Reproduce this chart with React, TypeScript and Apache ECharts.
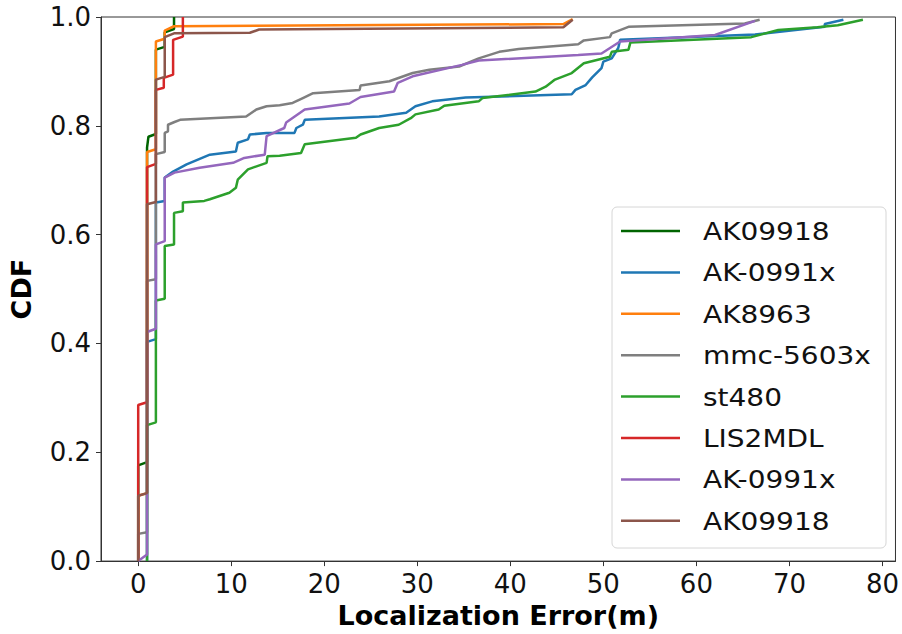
import React, { useEffect, useRef } from "react";
import * as echarts from "echarts";

const seriesNames = ["AK09918", "AK-0991x", "AK8963", "mmc-5603x", "st480", "LIS2MDL", "AK-0991x", "AK09918"];
const seriesColors = ["#006400", "#1f77b4", "#ff7f0e", "#7f7f7f", "#2ca02c", "#d62728", "#9467bd", "#8c564b"];
const xTicks = [0, 10, 20, 30, 40, 50, 60, 70, 80];
const yTicks = [0, 0.2, 0.4, 0.6, 0.8, 1.0];

const ak09918A = [[0,0],[0,0.176],[0.95,0.182],[0.95,0.76],[1.1,0.78],[1.9,0.785],[1.9,0.94],[2.85,0.945],[2.85,0.972],[3.85,0.978],[3.85,1.0]];
const ak0991xA = [[0.95,0],[0.95,0.403],[1.9,0.408],[1.9,0.659],[2.85,0.662],[2.85,0.705],[3.75,0.716],[5.2,0.729],[7.7,0.747],[10.5,0.753],[10.7,0.769],[11.8,0.775],[12,0.784],[13.8,0.787],[16.8,0.787],[17,0.796],[17.7,0.802],[17.9,0.811],[25.9,0.817],[28.8,0.824],[29.8,0.836],[31.6,0.845],[35.2,0.852],[46.6,0.858],[47,0.866],[48.1,0.875],[48.8,0.889],[49.8,0.906],[50,0.918],[50.9,0.924],[51.6,0.943],[51.8,0.958],[66.3,0.968],[73.8,0.982],[73.8,0.987],[75.8,0.995]];
const ak8963 = [[0,0],[0,0.12],[0.95,0.125],[0.95,0.752],[1.9,0.757],[1.9,0.955],[2.85,0.96],[2.85,0.975],[3.85,0.983],[45.7,0.987],[46.7,0.996]];
const mmc5603x = [[0,0],[0,0.05],[0.95,0.053],[0.95,0.515],[1.9,0.518],[1.9,0.748],[2.85,0.752],[2.85,0.787],[3.2,0.79],[3.2,0.802],[3.9,0.807],[4.5,0.811],[11.6,0.817],[12.7,0.83],[13.8,0.836],[15.2,0.838],[16.6,0.842],[17.7,0.851],[18.8,0.86],[23.8,0.866],[23.9,0.874],[27,0.882],[29.5,0.897],[31.3,0.903],[34.5,0.909],[36.6,0.924],[38.8,0.936],[40.9,0.941],[47.3,0.95],[47.9,0.957],[50.7,0.963],[50.9,0.97],[52.7,0.982],[65.2,0.988],[66.8,0.995]];
const st480 = [[0.95,0],[0.95,0.25],[1.9,0.255],[1.9,0.479],[2.85,0.482],[2.85,0.579],[3.85,0.582],[3.85,0.64],[4.8,0.643],[4.8,0.659],[7.1,0.662],[7.7,0.665],[9.8,0.677],[10.5,0.686],[10.7,0.701],[11.8,0.72],[13.8,0.732],[13.9,0.744],[15.2,0.745],[17.5,0.75],[17.9,0.766],[23.4,0.778],[23.9,0.784],[25.9,0.796],[28,0.802],[29.3,0.814],[29.8,0.821],[32.3,0.83],[32.9,0.837],[36.6,0.845],[37,0.851],[42.7,0.863],[43.8,0.872],[44.8,0.885],[46.6,0.897],[47.9,0.915],[50.7,0.927],[50.9,0.936],[52.7,0.94],[52.9,0.953],[65.9,0.963],[68.8,0.976],[73,0.981],[75.2,0.985],[77.9,0.995]];
const lis2mdl = [[0,0],[0,0.287],[0.95,0.292],[0.95,0.724],[1.9,0.73],[1.9,0.866],[2.75,0.87],[2.75,0.888],[3.75,0.894],[3.75,0.958],[4.8,0.964],[4.8,1.0]];
const ak0991xB = [[0,0],[0.95,0.012],[0.95,0.421],[1.9,0.427],[1.9,0.582],[2.85,0.588],[2.85,0.705],[3.9,0.714],[6.6,0.723],[10.2,0.732],[11.4,0.741],[13.6,0.747],[13.8,0.781],[15.7,0.796],[15.9,0.806],[17.9,0.83],[22.7,0.841],[23.9,0.853],[27.5,0.863],[27.9,0.879],[29.5,0.891],[34.8,0.912],[36.6,0.92],[47.3,0.93],[49.8,0.933],[51.8,0.955],[62,0.967],[66.3,0.993]];
const ak09918B = [[0,0],[0,0.12],[0.95,0.125],[0.95,0.656],[1.9,0.66],[1.9,0.885],[2.85,0.89],[2.85,0.963],[3.85,0.97],[12,0.971],[13,0.977],[45.7,0.981],[46.7,0.995]];

const seriesData = [ak09918A, ak0991xA, ak8963, mmc5603x, st480, lis2mdl, ak0991xB, ak09918B];

const FONT = "DejaVu Sans";

export default function App() {
  const ref = useRef<HTMLDivElement>(null);
  useEffect(() => {
    if (!ref.current) return;
    const chart = echarts.init(ref.current, null, { renderer: "svg" });

    const legendX = 612, legendY = 207, legendW = 274, legendH = 341;
    const rowY0 = 231, rowGap = 41.4;
    const legendEls: any[] = [
      {
        type: "rect",
        shape: { x: legendX, y: legendY, width: legendW, height: legendH, r: 5 },
        style: { fill: "rgba(255,255,255,0.8)", stroke: "#d6d6d6", lineWidth: 1 },
        z: 100,
      },
    ];
    seriesNames.forEach((name, i) => {
      const y = rowY0 + rowGap * i;
      legendEls.push({
        type: "line",
        shape: { x1: 621, y1: y, x2: 680, y2: y },
        style: { stroke: seriesColors[i], lineWidth: 2.5 },
        z: 101,
      });
      legendEls.push({
        type: "text",
        x: 703,
        y: y,
        scaleX: 1.12,
        style: {
          text: name,
          fontSize: 25,
          fontFamily: FONT,
          fill: "#111",
          verticalAlign: "middle",
          align: "left",
        },
        z: 101,
      });
    });

    chart.setOption({
      animation: false,
      backgroundColor: "#fff",
      grid: {
        left: 101,
        right: 4,
        top: 17,
        bottom: 71,
        containLabel: false,
        show: true,
        borderColor: "#333",
        borderWidth: 1,
        backgroundColor: "transparent",
      },
      xAxis: {
        type: "value",
        min: -4.0,
        max: 81.4,
        name: "Localization Error(m)",
        nameLocation: "middle",
        nameGap: 40,
        nameTextStyle: { fontSize: 27, fontWeight: "bold", fontFamily: FONT, color: "#000" },
        axisLine: { show: true, onZero: false, lineStyle: { color: "#333", width: 1 } },
        axisTick: { show: true, length: 5, lineStyle: { color: "#333" }, customValues: xTicks },
        axisLabel: { fontSize: 26, fontFamily: FONT, color: "#111", margin: 10, customValues: xTicks, formatter: (v: number) => String(v) },
        splitLine: { show: false },
      },
      yAxis: {
        type: "value",
        min: 0,
        max: 1,
        interval: 0.2,
        name: "CDF",
        nameLocation: "middle",
        nameGap: 66,
        nameRotate: 90,
        nameTextStyle: { fontSize: 27, fontWeight: "bold", fontFamily: FONT, color: "#000" },
        axisLine: { show: true, onZero: false, lineStyle: { color: "#333", width: 1 } },
        axisTick: { show: true, length: 5, lineStyle: { color: "#333" }, customValues: yTicks },
        axisLabel: { fontSize: 26, fontFamily: FONT, color: "#111", margin: 10, formatter: (v: number) => v.toFixed(1) },
        splitLine: { show: false },
      },
      series: seriesData.map((d, i) => ({
        type: "line",
        name: seriesNames[i],
        data: d,
        showSymbol: false,
        symbol: "none",
        lineStyle: { color: seriesColors[i], width: 2.5 },
        itemStyle: { color: seriesColors[i] },
        z: 2 + i * 0.01,
      })),
      graphic: { elements: legendEls },
    });

    return () => chart.dispose();
  }, []);
  return (
    <div
      ref={ref}
      style={{ position: "fixed", left: 0, top: 0, width: 902, height: 634, background: "#fff" }}
    />
  );
}
